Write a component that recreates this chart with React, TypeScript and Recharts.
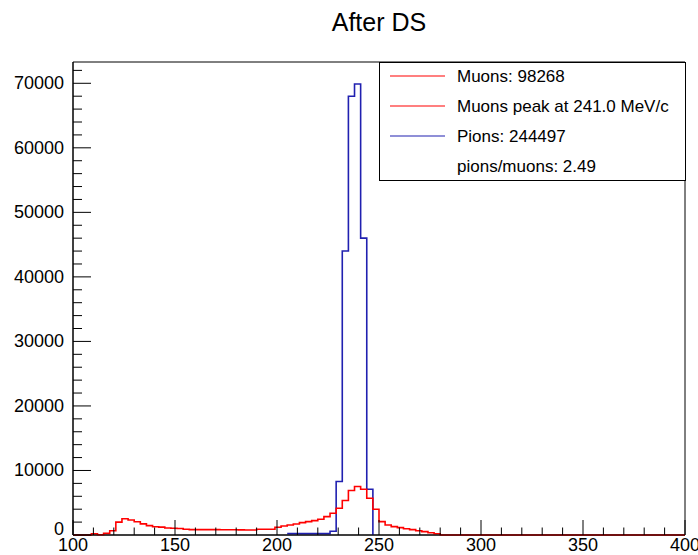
import { ComposedChart, Line, XAxis, YAxis, ReferenceArea } from "recharts";

// histogram binning: 100 bins of 3 MeV/c from 100 to 400
const BIN_LO = 100;
const BIN_W = 3;

// counts per bin (bin i covers [100 + 3i, 103 + 3i])
const muonCounts = [
  0, 0, 0, 200, 50, 250, 650, 2000, 2520, 2330,
  2050, 1730, 1450, 1280, 1220, 1080, 1040, 1000, 880, 840,
  840, 830, 830, 830, 820, 820, 810, 790, 780, 780,
  880, 880, 880, 1190, 1400, 1550, 1710, 1920, 2070, 2230,
  2430, 2850, 3370, 4140, 5340, 6890, 7510, 7100, 5700, 3990,
  2070, 1550, 1300, 1140, 980, 830, 670, 520, 360, 200,
  0, 0, 0, 0, 0, 0, 0, 0, 0, 0,
  0, 0, 0, 0, 0, 0, 0, 0, 0, 0,
  0, 0, 0, 0, 0, 0, 0, 0, 0, 0,
  0, 0, 0, 0, 0, 0, 0, 0, 0, 0
];

const pionCounts: (number | null)[] = [
  null, null, null, null, null, null, null, null, null, null,
  null, null, null, null, null, null, null, null, null, null,
  null, null, null, null, null, null, null, null, null, null,
  null, null, null, null, null, 220, 220, 220, 220, 220,
  220, 220, 570, 8300, 44000, 68000, 69900, 46000, 7100, 0,
  null, null, null, null, null, null, null, null, null, null,
  null, null, null, null, null, null, null, null, null, null,
  null, null, null, null, null, null, null, null, null, null,
  null, null, null, null, null, null, null, null, null, null,
  null, null, null, null, null, null, null, null, null, null
];

const xMajor = [100, 150, 200, 250, 300, 350, 400];
const yMajor = [0, 10000, 20000, 30000, 40000, 50000, 60000, 70000];
const Y_MAX = 73300;

const xTicks: number[] = [];
for (let v = 100; v <= 400; v += 10) xTicks.push(v);
const yTicks: number[] = [];
for (let v = 0; v <= 72000; v += 2000) yTicks.push(v);

const legendRows = [
  { label: "Muons: 98268", color: "#ff0000" },
  { label: "Muons peak at 241.0 MeV/c", color: "#ff0000" },
  { label: "Pions: 244497", color: "#2020b0" },
  { label: "pions/muons: 2.49", color: null }
];

// last point closes the final bin at x = 400
const data = muonCounts.concat([muonCounts[muonCounts.length - 1]]).map((mu, i) => ({
  x: BIN_LO + i * BIN_W,
  mu,
  pi: i < pionCounts.length ? pionCounts[i] : null
}));

const FONT = "'Liberation Sans', Arial, Helvetica, sans-serif";

function XTick(props: any) {
  const { x, y, payload } = props;
  const major = xMajor.includes(payload.value);
  return (
    <g>
      <line x1={x} x2={x} y1={y} y2={y - (major ? 15 : 7.5)} stroke="#000" />
      {major && (
        <text x={x} y={y + 16} textAnchor="middle" fontSize={18} fontFamily={FONT} fill="#000">
          {payload.value}
        </text>
      )}
    </g>
  );
}

function YTick(props: any) {
  const { x, y, payload } = props;
  const major = yMajor.includes(payload.value);
  return (
    <g>
      <line x1={x} x2={x + (major ? 18 : 9)} y1={y} y2={y} stroke="#000" />
      {major && (
        <text
          x={x - 9}
          y={payload.value === 0 ? y - 6 : y}
          textAnchor="end"
          dominantBaseline="central"
          fontSize={18}
          fontFamily={FONT}
          fill="#000"
        >
          {payload.value}
        </text>
      )}
    </g>
  );
}

export default function App() {
  return (
    <div style={{ position: "absolute", left: 0, top: 0, width: 698, height: 555, background: "#fff" }}>
      <ComposedChart width={698} height={555} data={data} margin={{ top: 62, right: 13, bottom: 0, left: 0 }}>
        <XAxis
          dataKey="x"
          type="number"
          domain={[100, 400]}
          ticks={xTicks}
          interval={0}
          tickSize={0}
          tickMargin={0}
          tick={<XTick />}
          axisLine={{ stroke: "#000" }}
          height={20}
        />
        <YAxis
          type="number"
          domain={[0, Y_MAX]}
          ticks={yTicks}
          interval={0}
          tickSize={0}
          tickMargin={0}
          tick={<YTick />}
          axisLine={{ stroke: "#000" }}
          width={73}
        />
        <ReferenceArea x1={100} x2={400} y1={0} y2={Y_MAX} fill="none" stroke="#000" strokeWidth={1} />
        <Line
          dataKey="pi"
          type="stepAfter"
          stroke="#2020b0"
          strokeWidth={1.6}
          dot={false}
          connectNulls={false}
          isAnimationActive={false}
        />
        <Line
          dataKey="mu"
          type="stepAfter"
          stroke="#ff0000"
          strokeWidth={1.6}
          dot={false}
          isAnimationActive={false}
        />
      </ComposedChart>
      <svg
        width={698}
        height={555}
        style={{ position: "absolute", left: 0, top: 0, pointerEvents: "none" }}
      >
        <text x={379} y={31} textAnchor="middle" fontSize={25} fontFamily={FONT} fill="#000">
          After DS
        </text>
        <rect x={379.5} y={62.5} width={306} height={118} fill="#fff" stroke="#000" />
        {legendRows.map((row, i) => (
          <g key={row.label}>
            {row.color && (
              <line x1={390} x2={445} y1={76 + i * 30} y2={76 + i * 30} stroke={row.color} strokeWidth={1.2} />
            )}
            <text
              x={457}
              y={76 + i * 30}
              dominantBaseline="central"
              fontSize={17}
              fontFamily={FONT}
              fill="#000"
            >
              {row.label}
            </text>
          </g>
        ))}
      </svg>
    </div>
  );
}
